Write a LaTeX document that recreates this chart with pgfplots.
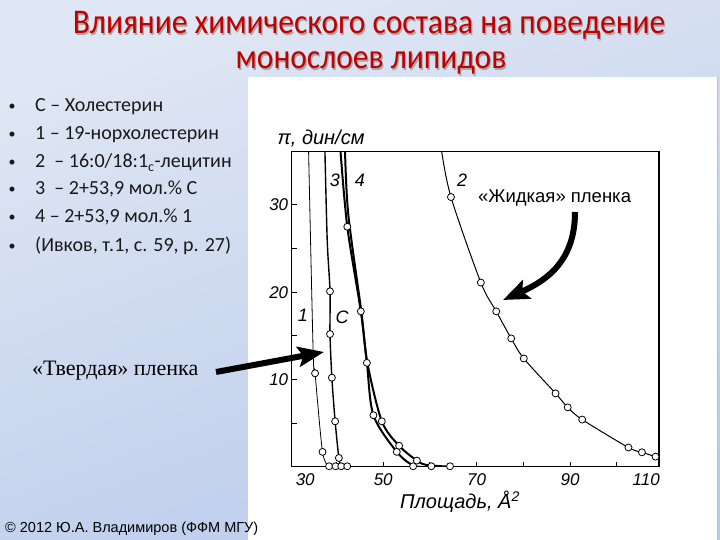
\documentclass[border=0pt]{standalone}
\usepackage{fontspec}
\usepackage{pgfplots}
\pgfplotsset{compat=1.18}
\usetikzlibrary{arrows.meta}
\setmainfont{Carlito}
\newfontfamily\arialf{Liberation Sans}
\newfontfamily\timesf{Liberation Serif}
\definecolor{titlered}{RGB}{192,0,0}
\definecolor{bgtop}{RGB}{224,231,244}
\definecolor{bgbot}{RGB}{186,203,235}

\begin{document}
\begin{tikzpicture}[x=1bp,y=1bp]
\useasboundingbox (0,0) rectangle (720,540);
\shade[top color=bgtop, bottom color=bgbot, shading angle=20] (0,0) rectangle (720,540);
\fill[white] (248,0) rectangle (717,463);
\draw[gray!50, line width=1bp] (717.5,0) -- (717.5,463);

% title
\foreach \dx/\dy/\c in {1.2/-1.2/black!35, 0/0/titlered}{
  \node[anchor=base, text=\c, yscale=1.1, font=\fontsize{31.5bp}{36bp}\selectfont] at (369+\dx,506+\dy) {Влияние химического состава на поведение};
  \node[anchor=base, text=\c, yscale=1.1, font=\fontsize{31.5bp}{36bp}\selectfont] at (371+\dx,471+\dy) {монослоев липидов};
}

% bullet list
\foreach \yy/\txt in {428.3/{С – Холестерин}, 400/{1 – 19-норхолестерин}, 372/{2 \ – 16:0/18:1\textsubscript{c}-лецитин}, 345/{3 \ – 2+53,9 мол.\% С}, 317/{4 – 2+53,9 мол.\% 1}, 288/{(Ивков, т.1, с. 59, р. 27)}}{
  \node[anchor=base, font=\fontsize{14bp}{16bp}\selectfont, text=black!90] at (12,\yy+1) {•};
  \node[anchor=base west, inner sep=0pt, font=\fontsize{20bp}{22bp}\selectfont, text=black!90] at (35,\yy) {\txt};
}

\begin{axis}[
    at={(291.7bp,73.3bp)}, anchor=south west,
    scale only axis, width=367.3bp, height=315bp,
    xmin=30.4, xmax=109.05, ymin=0, ymax=36.1,
    axis line style={line width=1.2bp},
    tick align=inside, tick pos=left,
    major tick length=5bp,
    tick style={line width=0.9bp, black},
    xtick={40,50,...,100}, xticklabels={,50,,70,,90,},
    extra x ticks={33.3,106.3}, extra x tick labels={30,110},
    extra x tick style={major tick length=0pt},
    ytick={5,10,...,30}, yticklabels={,10,,20,,30},
    tick label style={font=\arialf\itshape\fontsize{17bp}{17bp}\selectfont},
    xticklabel style={yshift=-3bp},
    mark options={solid, fill=white, draw=black, line width=0.8bp},
]
% curve 1
\addplot[black, line width=0.8bp, smooth, no marks] coordinates {(34.0,36.5) (35.0,13.0) (35.4,10.7) (37.0,1.7) (38.4,0)};
\addplot[only marks, mark=*, mark size=3.5bp] coordinates {(35.4,10.7) (37.0,1.7) (38.4,0.05)};
% curve C
\addplot[black, line width=1.4bp, smooth, no marks] coordinates {(37.5,36.5) (38.0,26) (38.6,20.1) (38.6,15.2) (39.0,10.2) (39.7,5.2) (40.5,1.0) (41.0,0)};
\addplot[only marks, mark=*, mark size=3.5bp] coordinates {(38.6,20.1) (38.6,15.2) (39.0,10.2) (39.7,5.2) (40.5,1.0) (39.8,0.05) (41.0,0.05) (42.3,0.05)};
% curve 3
\addplot[black, line width=2bp, smooth, no marks] coordinates {(40.8,36.5) (42.3,27.5) (45.2,17.8) (46.5,11.9) (47.9,5.9) (52.9,1.7) (56.6,0.1) (60.3,0)};
% curve 4
\addplot[black, line width=2bp, smooth, no marks] coordinates {(41.8,36.5) (42.5,29) (45.3,17.8) (46.6,11.9) (49.7,5.2) (53.4,2.4) (57.2,0.7) (59.3,0.2) (64.3,0)};
\addplot[only marks, mark=*, mark size=3.5bp] coordinates {(42.3,27.5) (45.2,17.8) (46.5,11.9) (47.9,5.9) (52.9,1.7) (56.4,0.05)};
\addplot[only marks, mark=*, mark size=3.5bp] coordinates {(49.7,5.2) (53.4,2.4) (57.2,0.7) (60.3,0.05) (64.3,0.05)};
% curve 2
\addplot[black, line width=1bp, smooth, no marks] coordinates {(62.4,36.5) (64.5,30.9) (70.9,21.1) (74.2,17.8) (77.4,14.7) (80.1,12.4) (86.9,8.4) (89.5,6.8) (92.6,5.4) (102.5,2.2) (105.4,1.65) (108.3,1.15)};
\addplot[only marks, mark=*, mark size=3.5bp] coordinates {(64.5,30.9) (70.9,21.1) (74.2,17.8) (77.4,14.7) (80.1,12.4) (86.9,8.4) (89.5,6.8) (92.6,5.4) (102.5,2.2) (105.4,1.65) (108.3,1.15)};
\end{axis}

% axis labels
\node[anchor=base, font=\arialf\itshape\fontsize{20bp}{20bp}\selectfont] at (321,395) {π, дин/см};
\node[anchor=base, font=\arialf\itshape\fontsize{20bp}{20bp}\selectfont] at (460,31) {Площадь, Å\textsuperscript{2}};

% curve labels
\begin{scope}[font=\arialf\itshape\fontsize{18bp}{18bp}\selectfont]
\node at (303,225) {1};
\node at (342,223) {C};
\node at (335,360) {3};
\node at (360,360) {4};
\node at (462,360) {2};
\end{scope}

% annotations
\draw[line width=6bp, -{Stealth[length=26bp,width=20bp,inset=5bp]}] (216,168) -- (324,188);
\node[anchor=base west, inner sep=0pt, font=\timesf\fontsize{22bp}{22bp}\selectfont] at (32,164) {«Твердая» пленка};
\draw[line width=6bp, -{Stealth[length=26bp,width=20bp,inset=5bp]}] (575,328) .. controls (575,280) and (548,260) .. (503,240);
\node[anchor=base west, inner sep=0pt, font=\arialf\fontsize{18.5bp}{18.5bp}\selectfont] at (478,337) {«Жидкая» пленка};

% footer
\node[anchor=base west, inner sep=0pt, font=\arialf\fontsize{14.5bp}{14.5bp}\selectfont] at (5,7) {© 2012 Ю.А. Владимиров (ФФМ МГУ)};
\end{tikzpicture}
\end{document}
